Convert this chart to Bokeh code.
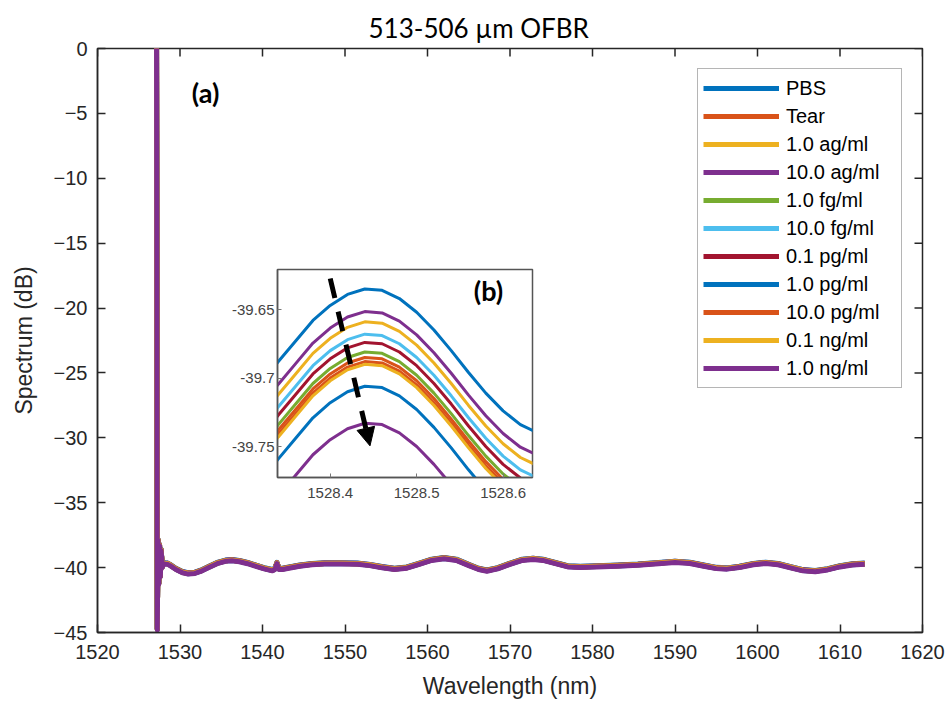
from bokeh.plotting import figure
from bokeh.models import (ColumnDataSource, Legend, LegendItem, FixedTicker,
                          Label, Arrow, NormalHead, GridBox, Range1d)
from bokeh.embed import file_html
from bokeh.resources import INLINE

# ---------------- data ----------------
series_labels = ["PBS", "Tear", "1.0 ag/ml", "10.0 ag/ml", "1.0 fg/ml", "10.0 fg/ml",
                 "0.1 pg/ml", "1.0 pg/ml", "10.0 pg/ml", "0.1 ng/ml", "1.0 ng/ml"]
series_colors = ["#0072BD", "#D95319", "#EDB120", "#7E2F8E", "#77AC30", "#4DBEEE",
                 "#A2142F", "#0072BD", "#D95319", "#EDB120", "#7E2F8E"]
peak_db = [-39.635, -39.685, -39.659, -39.6515, -39.681, -39.668,
           -39.674, -39.706, -39.688, -39.690, -39.733]

# PBS spectrum, full range (panel a)
main_wl = [1527.15, 1527.25, 1527.33, 1527.42, 1527.52, 1527.62, 1527.72, 1527.85, 1528.0,
           1528.2, 1528.45, 1528.8, 1529.5, 1530.3, 1531.0, 1531.8, 1532.5, 1533.5, 1534.5,
           1535.5, 1536.3, 1537.2, 1538.2, 1539.2, 1540.2, 1541.2, 1541.5, 1541.75, 1542.0,
           1542.4, 1543.2, 1544.5, 1546.0, 1547.5, 1549.5, 1551.5, 1553.0, 1554.5, 1556.0,
           1557.5, 1559.0, 1560.5, 1562.0, 1563.5, 1565.0, 1566.2, 1567.2, 1568.5, 1570.0,
           1571.5, 1572.8, 1574.0, 1575.5, 1577.0, 1578.5, 1580.5, 1583.0, 1585.5, 1588.0,
           1590.0, 1591.8, 1593.5, 1595.0, 1596.3, 1597.8, 1599.5, 1601.0, 1602.5, 1604.0,
           1605.5, 1607.0, 1608.5, 1610.0, 1611.5, 1613.0]
main_db = [3.0, -44.7, -37.8, -41.2, -38.2, -40.6, -38.6, -39.9, -39.6,
           -39.62, -39.635, -39.75, -40.05, -40.3, -40.4, -40.35, -40.2, -39.9, -39.6,
           -39.42, -39.38, -39.45, -39.6, -39.8, -40.0, -40.15, -40.05, -39.6, -40.05,
           -40.05, -39.95, -39.8, -39.68, -39.63, -39.62, -39.65, -39.75, -39.92, -40.05,
           -39.95, -39.65, -39.35, -39.22, -39.35, -39.75, -40.05, -40.18, -40.0, -39.65,
           -39.35, -39.27, -39.35, -39.6, -39.85, -39.9, -39.85, -39.8, -39.72, -39.6,
           -39.5, -39.58, -39.8, -39.98, -40.02, -39.9, -39.68, -39.58, -39.68, -39.92,
           -40.15, -40.22, -40.08, -39.85, -39.7, -39.65]

# PBS spectrum zoomed near the first peak (panel b)
inset_wl = [1528.30, 1528.32, 1528.34, 1528.36, 1528.38, 1528.40, 1528.42, 1528.44, 1528.46,
            1528.48, 1528.50, 1528.52, 1528.54, 1528.56, 1528.58, 1528.60, 1528.62, 1528.64,
            1528.66, 1528.68]
inset_pbs_db = [-39.718, -39.704, -39.688, -39.673, -39.658, -39.647, -39.639, -39.635, -39.636,
                -39.642, -39.652, -39.665, -39.680, -39.696, -39.711, -39.724, -39.734, -39.740,
                -39.741, -39.737]

x_ticks = [1520, 1530, 1540, 1550, 1560, 1570, 1580, 1590, 1600, 1610, 1620]
y_ticks = [0, -5, -10, -15, -20, -25, -30, -35, -40, -45]
inset_x_ticks = [1528.4, 1528.5, 1528.6]
inset_y_ticks = [-39.75, -39.7, -39.65]
inset_y_labels = ["-39.75", "-39.7", "-39.65"]
arrow_x = [1528.400, 1528.446]
arrow_y = [-39.6274, -39.7495]

AX = "#262626"
FONT = "Liberation Sans"
X0, X1, Y0, Y1 = 1520, 1620, -45, 0

# ---------------- main figure ----------------
p = figure(width=951, height=701, x_range=Range1d(X0, X1), y_range=Range1d(Y0, Y1),
           output_backend="svg", toolbar_location=None,
           min_border_left=97, min_border_right=29, min_border_top=48, min_border_bottom=69,
           background_fill_color="white", border_fill_color="white")
p.xgrid.visible = False
p.ygrid.visible = False
p.outline_line_color = AX
p.outline_line_width = 1.5

p.title.text = "513-506 \u00b5m OFBR"
p.title.text_font = "Lato"
p.title.text_font_size = "26px"
p.title.text_font_style = "normal"
p.title.text_color = "black"
p.title.align = "left"
p.title.offset = 271
p.title.standoff = 10

p.xaxis.ticker = FixedTicker(ticks=x_ticks)
p.yaxis.ticker = FixedTicker(ticks=y_ticks)
p.xaxis.axis_label = "Wavelength (nm)"
p.yaxis.axis_label = "Spectrum (dB)"
for ax in (p.xaxis[0], p.yaxis[0]):
    ax.major_tick_in = 8
    ax.major_tick_out = 0
    ax.minor_tick_in = 0
    ax.minor_tick_out = 0
    ax.axis_line_color = AX
    ax.axis_line_width = 1.5
    ax.major_tick_line_color = AX
    ax.major_tick_line_width = 1.5
    ax.major_label_text_font = FONT
    ax.major_label_text_font_size = "20px"
    ax.major_label_text_color = AX
    ax.axis_label_text_font = FONT
    ax.axis_label_text_font_size = "23px"
    ax.axis_label_text_font_style = "normal"
    ax.axis_label_text_color = AX
p.xaxis.major_label_standoff = 12
p.yaxis.major_label_standoff = 10
p.xaxis.axis_label_standoff = 11
p.yaxis.axis_label_standoff = 14

# mirrored tick marks on the top and right edges of the box (8 px long)
tx = 8 / 825 * (X1 - X0)
ty = 8 / 584 * (Y1 - Y0)
p.segment(x0=x_ticks, y0=[Y1] * len(x_ticks), x1=x_ticks, y1=[Y1 - ty] * len(x_ticks),
          line_color=AX, line_width=1.5)
p.segment(x0=[X1] * len(y_ticks), y0=y_ticks, x1=[X1 - tx] * len(y_ticks), y1=y_ticks,
          line_color=AX, line_width=1.5)

items = []
for i, lab in enumerate(series_labels):
    off = peak_db[i] - peak_db[0]
    src = ColumnDataSource(dict(x=main_wl, y=[v + off for v in main_db]))
    r = p.line("x", "y", source=src, line_color=series_colors[i], line_width=5,
               line_join="round")
    items.append(LegendItem(label=lab, renderers=[r]))

legend = Legend(items=items, location="top_right")
legend.margin = 20
legend.padding = 5
legend.spacing = 0
legend.glyph_width = 76
legend.glyph_height = 28
legend.label_height = 28
legend.label_width = 110
legend.label_standoff = 7
legend.label_text_font = FONT
legend.label_text_font_size = "20px"
legend.label_text_color = "black"
legend.border_line_color = "#6b6b6b"
legend.border_line_width = 1.2
legend.background_fill_color = "white"
p.add_layout(legend)

p.add_layout(Label(x=1533.1, y=-3.4, text="(a)", text_font="Lato", text_font_size="27px",
                   text_font_style="bold", text_align="center", text_baseline="middle",
                   text_color="black"))

# ---------------- inset figure ----------------
q = figure(width=312, height=248, x_range=Range1d(1528.339, 1528.634),
           y_range=Range1d(-39.7726, -39.6208),
           output_backend="svg", toolbar_location=None,
           min_border_left=47, min_border_right=8, min_border_top=7, min_border_bottom=33,
           background_fill_color="white", border_fill_color="white")
q.xgrid.visible = False
q.ygrid.visible = False
q.outline_line_color = "#555555"
q.outline_line_width = 1.5
q.xaxis.ticker = FixedTicker(ticks=inset_x_ticks)
q.yaxis.ticker = FixedTicker(ticks=inset_y_ticks)
q.yaxis.major_label_overrides = {t: s for t, s in zip(inset_y_ticks, inset_y_labels)}
for ax in (q.xaxis[0], q.yaxis[0]):
    ax.major_tick_in = 4
    ax.major_tick_out = 0
    ax.minor_tick_in = 0
    ax.minor_tick_out = 0
    ax.axis_line_color = "#555555"
    ax.axis_line_width = 1.5
    ax.major_tick_line_color = "#777777"
    ax.major_label_text_font = FONT
    ax.major_label_text_font_size = "15px"
    ax.major_label_text_color = "#444444"
q.xaxis.major_label_standoff = 10
q.yaxis.major_label_standoff = 3

for i in range(len(series_labels)):
    off = peak_db[i] - peak_db[0]
    q.line(inset_wl, [v + off for v in inset_pbs_db], line_color=series_colors[i],
           line_width=3, line_join="round")

q.add_layout(Arrow(end=NormalHead(size=18, fill_color="black", line_color="black"),
                   x_start=arrow_x[0], y_start=arrow_y[0], x_end=arrow_x[1], y_end=arrow_y[1],
                   line_width=5, line_dash="20 14", line_color="black"))
q.add_layout(Label(x=1528.583, y=-39.636, text="(b)", text_font="Lato", text_font_size="27px",
                   text_font_style="bold", text_align="center", text_baseline="middle",
                   text_color="black"))

grid = GridBox(children=[(p, 0, 0, 3, 3), (q, 1, 1, 1, 1)],
               rows=["262px", "248px", "191px"], cols=["228px", "312px", "411px"],
               spacing=0, width=951, height=701)

open("out.html", "w").write(file_html(grid, INLINE))
